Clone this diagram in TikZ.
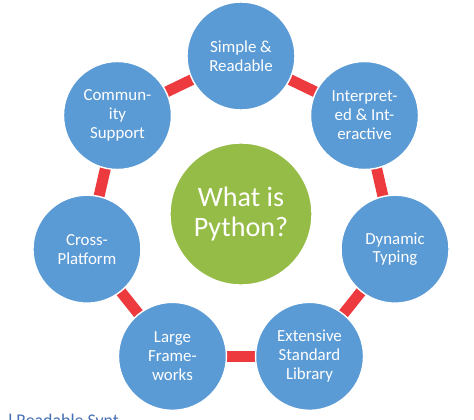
\documentclass[tikz,border=0pt]{standalone}
\usepackage{fontspec}
\setmainfont{Carlito}
\usetikzlibrary{backgrounds}

\definecolor{bubbleblue}{RGB}{91,155,213}
\definecolor{ringred}{RGB}{236,58,62}
\definecolor{pygreen}{RGB}{150,188,72}
\definecolor{linkblue}{RGB}{70,110,180}

\tikzset{
  feature/.style={circle,fill=bubbleblue,draw=white,line width=1pt,minimum size=2.7cm,inner sep=0pt,align=center,text=white,font=\fontsize{12}{13.5}\selectfont},
  hub/.style={circle,fill=pygreen,draw=white,line width=1pt,minimum size=3.55cm,inner sep=0pt,align=center,text=white,font=\fontsize{20}{22}\selectfont},
  link/.style={ringred,line width=7.8pt}
}

\begin{document}
\begin{tikzpicture}
	\useasboundingbox (-6.025,-5.15) rectangle (5.825,5.35);
	\node[hub] (C) at (0,0) {What is\\Python?};
	\foreach \t [count=\n] in
		{{Simple \&\\Readable},{Interpret-\\ed \& Int-\\eractive},{Dynamic\\Typing},{Extensive\\Standard\\Library},{Large\\Frame-\\works},{Cross-\\Platform},{Commun-\\ity\\Support}}
		\node[feature] (N\n) at ({90-(\n-1)*360/7}:3.95) {\t};

	\begin{scope}[on background layer]
	\foreach \i in {1,...,7}
	{
		\pgfmathtruncatemacro{\TempVar}{mod(\i,7)+1}
		\draw[link] (N\i.center) -- (N\TempVar.center);
	}
	\end{scope}

	\node[anchor=base west,inner sep=0pt,text=linkblue,font=\fontsize{12.7}{14}\selectfont] (tail) at (-5.825,-5.3) {l Readable Synt};
\end{tikzpicture}
\end{document}
